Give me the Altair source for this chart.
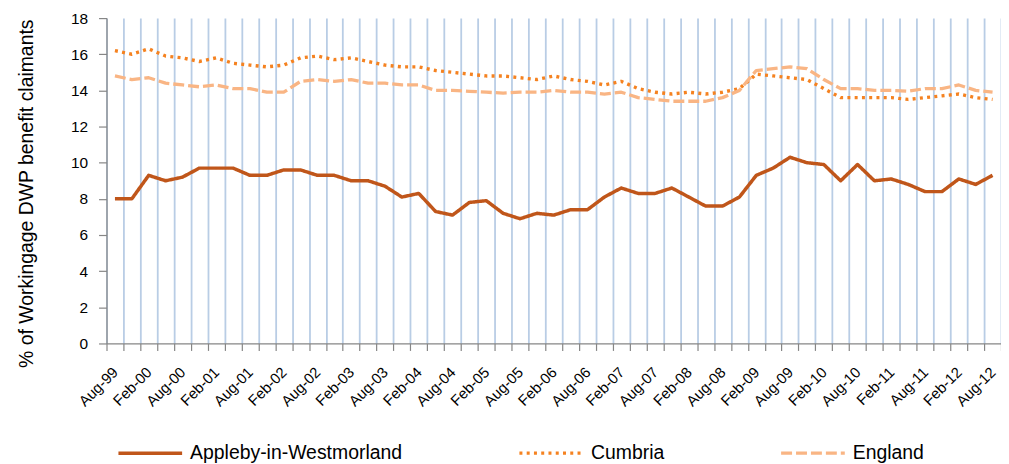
import altair as alt
import pandas as pd

quarters = [
    "Aug-99", "Nov-99", "Feb-00", "May-00", "Aug-00", "Nov-00", "Feb-01", "May-01",
    "Aug-01", "Nov-01", "Feb-02", "May-02", "Aug-02", "Nov-02", "Feb-03", "May-03",
    "Aug-03", "Nov-03", "Feb-04", "May-04", "Aug-04", "Nov-04", "Feb-05", "May-05",
    "Aug-05", "Nov-05", "Feb-06", "May-06", "Aug-06", "Nov-06", "Feb-07", "May-07",
    "Aug-07", "Nov-07", "Feb-08", "May-08", "Aug-08", "Nov-08", "Feb-09", "May-09",
    "Aug-09", "Nov-09", "Feb-10", "May-10", "Aug-10", "Nov-10", "Feb-11", "May-11",
    "Aug-11", "Nov-11", "Feb-12", "May-12", "Aug-12",
]

appleby = [
    8.0, 8.0, 9.3, 9.0, 9.2, 9.7, 9.7, 9.7, 9.3, 9.3, 9.6, 9.6, 9.3, 9.3, 9.0, 9.0,
    8.7, 8.1, 8.3, 7.3, 7.1, 7.8, 7.9, 7.2, 6.9, 7.2, 7.1, 7.4, 7.4, 8.1, 8.6, 8.3,
    8.3, 8.6, 8.1, 7.6, 7.6, 8.1, 9.3, 9.7, 10.3, 10.0, 9.9, 9.0, 9.9, 9.0, 9.1, 8.8,
    8.4, 8.4, 9.1, 8.8, 9.3,
]
cumbria = [
    16.2, 16.0, 16.3, 15.9, 15.8, 15.6, 15.8, 15.5, 15.4, 15.3, 15.4, 15.8, 15.9, 15.7, 15.8, 15.6,
    15.4, 15.3, 15.3, 15.1, 15.0, 14.9, 14.8, 14.8, 14.7, 14.6, 14.8, 14.6, 14.5, 14.3, 14.5, 14.1,
    13.9, 13.8, 13.9, 13.8, 13.9, 14.1, 14.9, 14.8, 14.7, 14.6, 14.1, 13.6, 13.6, 13.6, 13.6, 13.5,
    13.6, 13.7, 13.8, 13.6, 13.5,
]
england = [
    14.8, 14.6, 14.7, 14.4, 14.3, 14.2, 14.3, 14.1, 14.1, 13.9, 13.9, 14.5, 14.6, 14.5, 14.6, 14.4,
    14.4, 14.3, 14.3, 14.0, 14.0, 13.95, 13.9, 13.85, 13.9, 13.9, 14.0, 13.9, 13.9, 13.8, 13.9, 13.6,
    13.5, 13.4, 13.4, 13.4, 13.6, 14.0, 15.1, 15.2, 15.3, 15.2, 14.6, 14.1, 14.1, 14.0, 14.0, 13.95,
    14.1, 14.1, 14.3, 14.0, 13.9,
]

series_names = ["Appleby-in-Westmorland", "Cumbria", "England"]
series_colors = ["#C0561A", "#F58220", "#F9B584"]
series_dashes = [[1, 0], [3, 4.3], [11, 4]]
series_widths = [3.5, 3.3, 4.5]
y_ticks = [0, 2, 4, 6, 8, 10, 12, 14, 16, 18]

rows = []
for name, vals in zip(series_names, [appleby, cumbria, england]):
    for q, v in zip(quarters, vals):
        rows.append({"quarter": q, "series": name, "value": v})
df = pd.DataFrame(rows)

FONT = "Liberation Sans"
AXIS_GREY = "#868686"

legend = alt.Legend(
    title=None,
    orient="none",
    legendX=10,
    legendY=403,
    direction="horizontal",
    columns=3,
    columnPadding=110,
    gridAlign="each",
    symbolType="stroke",
    symbolSize=64 * 64,
    labelFontSize=19.5,
    labelFont=FONT,
    labelColor="#000000",
    labelOffset=6,
    labelLimit=400,
    padding=0,
)

chart = alt.Chart(df).mark_line(strokeJoin="round").encode(
    x=alt.X(
        "quarter:O",
        sort=quarters,
        scale=alt.Scale(type="band", paddingInner=0, paddingOuter=0),
        axis=alt.Axis(
            title=None,
            tickBand="extent",
            grid=True,
            gridColor="#B9CDE5",
            gridWidth=1.8,
            domainColor=AXIS_GREY,
            domainWidth=1.2,
            tickColor=AXIS_GREY,
            tickWidth=1.2,
            tickSize=7,
            labelAngle=315,
            labelAlign="right",
            labelBaseline="middle",
            labelPadding=19,
            labelFontSize=15,
            labelFont=FONT,
            labelColor="#000000",
            labelOverlap=False,
            labelExpr="(substring(datum.label,0,3) == 'Aug' || substring(datum.label,0,3) == 'Feb') ? datum.label : ''",
        ),
    ),
    y=alt.Y(
        "value:Q",
        scale=alt.Scale(domain=[0, 18], nice=False, zero=True),
        axis=alt.Axis(
            title="% of Workingage DWP benefit claimants",
            values=y_ticks,
            grid=False,
            domainColor=AXIS_GREY,
            domainWidth=1.2,
            tickColor=AXIS_GREY,
            tickWidth=1.2,
            tickSize=8,
            labelPadding=11,
            labelFontSize=15.5,
            labelFont=FONT,
            labelColor="#000000",
            titleFont=FONT,
            titleFontSize=19.5,
            titleFontWeight="normal",
            titleColor="#000000",
            titleAngle=270,
            titleAlign="center",
            titleBaseline="middle",
            titleX=-80,
            titleY=176,
        ),
    ),
    color=alt.Color("series:N", scale=alt.Scale(domain=series_names, range=series_colors), legend=legend),
    strokeDash=alt.StrokeDash("series:N", scale=alt.Scale(domain=series_names, range=series_dashes), legend=legend),
    strokeWidth=alt.StrokeWidth("series:N", scale=alt.Scale(domain=series_names, range=series_widths), legend=legend),
).properties(
    width=899,
    height=327,
    padding={"left": 99, "top": 9, "right": 0, "bottom": 120},
    autosize=alt.AutoSizeParams(type="none"),
    background="white",
).configure_view(stroke=None)

chart.save("out.html", embed_options={"renderer": "svg", "actions": False})
